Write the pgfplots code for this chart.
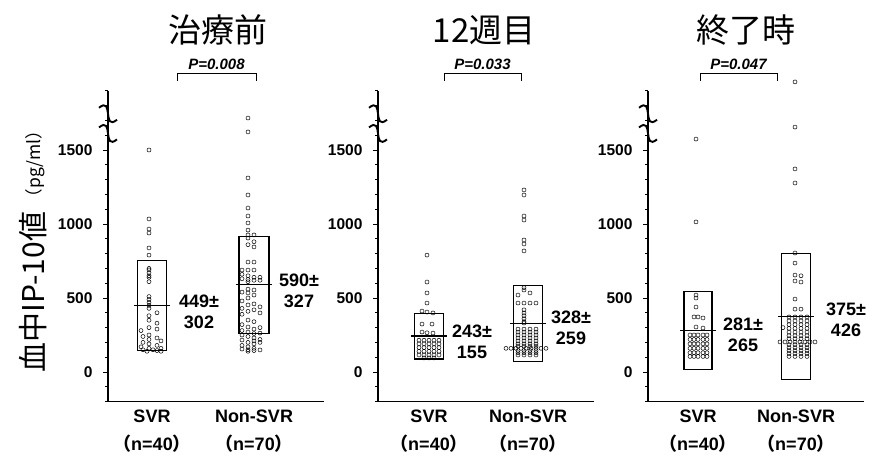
\documentclass[border=0pt]{standalone}
\usepackage{pgfplots}
\pgfplotsset{compat=1.18}
\usepackage{graphicx}
\usepackage{fontspec}
\setmainfont{Liberation Sans}
\setsansfont{Liberation Sans}
\newfontfamily\cjk{Noto Sans CJK JP}
\newcommand{\brk}[1]{\draw[line width=1.9pt,shift={(axis cs:0,#1)}] (-9pt,6pt) .. controls (6pt,18pt) and (-6pt,-18pt) .. (9pt,-6pt);}
\pgfplotsset{
  panel/.style={
    scale only axis, width=216pt, height=310.8pt, anchor=south west,
    xmin=0, xmax=216, ymin=-200, ymax=1900,
    axis x line*=bottom, axis y line*=left,
    axis line style={line width=1.2pt},
    ytick={0,500,1000,1500},
    minor ytick={-200,-100,...,1900},
    tick align=outside,
    major tick length=5pt, minor tick length=3pt,
    tick style={line width=0.8pt,black},
    xtick style={draw=none},
    /pgf/number format/assume math mode=true,
    /pgf/number format/1000 sep={},
    yticklabel style={font=\bfseries\fontsize{15.5}{15.5}\selectfont, xshift=-7pt},
    xticklabel style={align=center, font=\bfseries\fontsize{18}{28}\selectfont},
    clip=false,
  },
  dots/.style={only marks, mark=o, mark size=2pt, mark options={line width=0.5pt, black}},
  bx/.style={black, line width=1.1pt, line join=miter},
}
\begin{document}
\begin{tikzpicture}
\path[use as bounding box] (0,0) rectangle (870pt,464pt);
% ---------------- Panel 1 ----------------
\begin{axis}[panel, at={(108pt,62.4pt)}, xtick={44,146},
  xticklabels={{SVR\\{\cjk （}n=40{\cjk ）}},{Non-SVR\\{\cjk （}n=70{\cjk ）}}}]
\addplot[bx] coordinates {(44,147) (58.5,147) (58.5,751) (29.5,751) (29.5,147) (44,147)};
\addplot[bx] coordinates {(26,449) (62,449)};
\addplot[bx] coordinates {(146,263) (161,263) (161,917) (131,917) (131,263) (146,263)};
\addplot[bx] coordinates {(128,590) (164,590)};
\addplot[dots] coordinates {
(41,1500)(41,1034)(41,966)(41,939)(41,838)(41,790)
(41,700)(41,690)(41,670)(41,650)(41,640)(41,610)
(41,510)(41,490)(41,470)(41,450)(41,430)
(49,400)(41,380)(41,350)(49,330)
(41,300)(33,280)(49,290)(41,250)(35,240)(49,230)(41,220)(53,210)(35,200)(41,190)(49,180)(33,170)(41,160)(53,160)(35,150)(45,150)(49,145)(39,140)(53,140)};
\addplot[dots] coordinates {
(140,1716)(140,1622)(140,1311)(140,1196)(140,1108)(140,1054)(140,1007)(140,959)(140,926)(146,926)(140,905)(146,880)(140,860)(146,845)
(140,743)(146,743)(134,689)(140,689)(146,689)(134,660)(140,650)(146,640)(152,640)(134,630)(140,625)(146,620)(152,620)(140,610)
(140,560)(146,554)(134,540)(140,534)(146,520)(140,500)(134,480)(146,460)(140,453)(152,440)(134,430)(146,420)(140,410)(152,399)(134,390)
(140,351)(146,340)(134,320)(140,304)(152,300)(146,290)(134,280)(140,270)(152,263)(146,260)(134,250)(140,240)(146,230)(152,220)(134,216)(140,200)(146,190)(134,180)(140,170)(146,160)(134,155)(140,150)(152,149)(146,145)(140,140)(152,200)(146,210)};
\node[font=\bfseries\fontsize{18}{21}\selectfont, align=center] at (axis cs:91,405) {449±\\302};
\node[font=\bfseries\fontsize{18}{21}\selectfont, align=center] at (axis cs:191,547) {590±\\327};
\draw[line width=0.8pt] (axis cs:69,1966) -- (axis cs:69,2020) -- (axis cs:148,2020) -- (axis cs:148,1966);
\node[font=\bfseries\itshape\fontsize{15}{15}\selectfont, anchor=base] at (axis cs:108.5,2042) {P=0.008};
\brk{1745}\brk{1612}
\end{axis}
% ---------------- Panel 2 ----------------
\begin{axis}[panel, at={(378pt,62.4pt)}, xtick={51,150},
  xticklabels={{SVR\\{\cjk （}n=40{\cjk ）}},{Non-SVR\\{\cjk （}n=70{\cjk ）}}}]
\addplot[bx] coordinates {(51,88) (65.5,88) (65.5,398) (36.5,398) (36.5,88) (51,88)};
\addplot[bx] coordinates {(33,243) (69,243)};
\addplot[bx] coordinates {(150,69) (164.5,69) (164.5,587) (135.5,587) (135.5,69) (150,69)};
\addplot[bx] coordinates {(132,328) (168,328)};
\addplot[dots] coordinates {
(49,790)(49,608)(49,534)(49,466)(44,412)(49,405)(55,399)(44,324)(54,324)(44,270)(49,265)(55,263)
(41,215)(46,215)(51,215)(56,215)(61,215)
(41,190)(46,190)(51,190)(56,190)(61,190)
(41,165)(46,165)(51,165)(56,165)(61,165)
(41,140)(46,140)(51,140)(56,140)(61,140)
(41,115)(46,115)(51,115)(56,115)(61,115)
(46,95)(51,95)(56,95)};
\addplot[dots] coordinates {
(146,1230)(146,1196)(146,1054)(146,1027)(146,892)(146,865)(146,818)
(146,570)(146,554)(152,534)(140,520)(140,466)(146,466)(152,466)(158,466)
(146,420)(146,399)(146,380)(146,360)(146,340)(146,331)
(128,160)(133,160)(138,160)(143,160)(148,160)(153,160)(158,160)(163,160)(168,160)
(140,290)(146,290)(152,290)(158,290)
(140,270)(146,270)(152,270)(158,270)
(140,250)(146,250)(152,250)(158,250)
(140,230)(146,230)(152,230)(158,230)
(140,210)(146,210)(152,210)(158,210)
(140,190)(146,190)(152,190)(158,190)
(140,175)(146,175)(152,175)(158,175)
(140,145)(146,145)(152,145)(158,145)
(140,130)(146,130)(152,130)(158,130)
(140,115)(146,115)(152,115)(158,115)};
\node[font=\bfseries\fontsize{18}{21}\selectfont, align=center] at (axis cs:94,203) {243±\\155};
\node[font=\bfseries\fontsize{18}{21}\selectfont, align=center] at (axis cs:193,297) {328±\\259};
\draw[line width=0.8pt] (axis cs:66,1966) -- (axis cs:66,2020) -- (axis cs:143,2020) -- (axis cs:143,1966);
\node[font=\bfseries\itshape\fontsize{15}{15}\selectfont, anchor=base] at (axis cs:104.5,2042) {P=0.033};
\brk{1745}\brk{1612}
\end{axis}
% ---------------- Panel 3 ----------------
\begin{axis}[panel, at={(648pt,62.4pt)}, xtick={50,148},
  xticklabels={{SVR\\{\cjk （}n=40{\cjk ）}},{Non-SVR\\{\cjk （}n=70{\cjk ）}}}]
\addplot[bx] coordinates {(50,16) (64,16) (64,546) (36,546) (36,16) (50,16)};
\addplot[bx] coordinates {(32,281) (68,281)};
\addplot[bx] coordinates {(148,-51) (162.5,-51) (162.5,801) (133.5,801) (133.5,-51) (148,-51)};
\addplot[bx] coordinates {(130,375) (166,375)};
\addplot[dots] coordinates {
(48,1574)(48,1014)(48,520)(48,500)(48,439)(46,372)(50,372)(55,365)(48,304)(55,297)
(42,250)(46,250)(50,250)(55,250)(59,250)
(42,220)(46,220)(50,220)(55,220)(59,220)
(42,190)(46,190)(50,190)(55,190)(59,190)
(42,160)(46,160)(50,160)(55,160)(59,160)
(42,130)(46,130)(50,130)(55,130)(59,130)
(42,105)(46,105)(50,105)(55,105)(59,105)};
\addplot[dots] coordinates {
(147,1960)(147,1655)(147,1372)(147,1277)
(147,804)(147,736)(147,655)(153,650)(147,615)(153,608)(147,493)(147,425)(153,425)
(132,203)(137,203)(142,203)(147,203)(152,203)(157,203)(162,203)(167,203)
(141,372)(147,372)(153,372)(159,372)
(141,345)(147,345)(153,345)(159,345)
(141,320)(147,320)(153,320)(159,320)
(141,295)(147,295)(153,295)(159,295)
(141,270)(147,270)(153,270)(159,270)
(141,245)(147,245)(153,245)(159,245)
(141,225)(147,225)(153,225)(159,225)
(141,185)(147,185)(153,185)(159,185)
(141,165)(147,165)(153,165)(159,165)
(141,145)(147,145)(153,145)(159,145)
(141,125)(147,125)(153,125)(159,125)
(141,105)(147,105)(153,105)(159,105)
(135,300)};
\node[font=\bfseries\fontsize{18}{21}\selectfont, align=center] at (axis cs:95,250) {281±\\265};
\node[font=\bfseries\fontsize{18}{21}\selectfont, align=center] at (axis cs:198,351) {375±\\426};
\draw[line width=0.8pt] (axis cs:52,1966) -- (axis cs:52,2020) -- (axis cs:129,2020) -- (axis cs:129,1966);
\node[font=\bfseries\itshape\fontsize{15}{15}\selectfont, anchor=base] at (axis cs:90.5,2042) {P=0.047};
\brk{1745}\brk{1612}
\end{axis}
% titles and y label
\node[font=\cjk\fontsize{33}{33}\selectfont] at (218pt,434pt) {治療前};
\node[font=\cjk\fontsize{33}{33}\selectfont] at (484pt,434pt) {12週目};
\node[font=\cjk\fontsize{33}{33}\selectfont] at (746pt,434pt) {終了時};
\node[rotate=90, font=\cjk\fontsize{30}{30}\selectfont] at (33pt,172pt) {血中IP-10値};
\node[rotate=90, font=\cjk\fontsize{17.5}{17.5}\selectfont] at (35pt,300pt) {（pg/ml）};
\end{tikzpicture}
\end{document}
